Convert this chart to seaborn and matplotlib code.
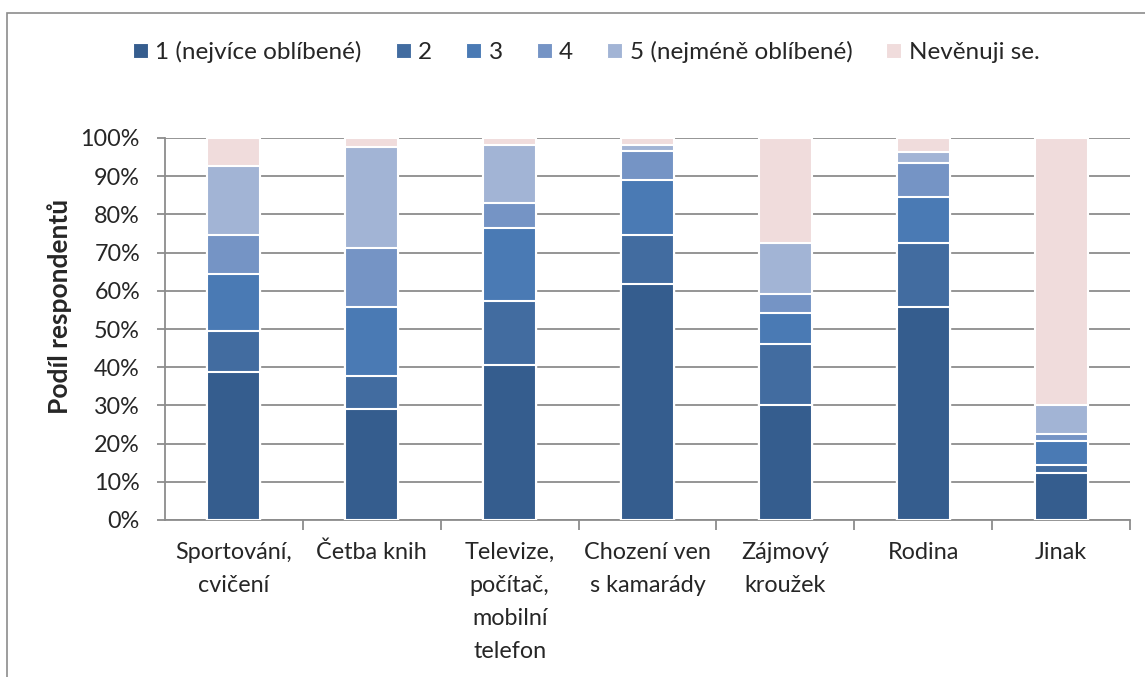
import numpy as np
import pandas as pd
import matplotlib
matplotlib.use("Agg")
import matplotlib.pyplot as plt
import matplotlib.patches as mpatches
import seaborn as sns

categories = ["Sportování,\ncvičení", "Četba knih", "Televize,\npočítač,\nmobilní\ntelefon",
              "Chození ven\ns kamarády", "Zájmový\nkroužek", "Rodina", "Jinak"]
levels = ["1 (nejvíce oblíbené)", "2", "3", "4", "5 (nejméně oblíbené)", "Nevěnuji se."]

# share of respondents in % per level, one list per level (same order as categories)
level_1 = [38.8, 29.1, 40.6, 61.7, 30.1, 55.8, 12.2]
level_2 = [10.7, 8.6, 16.6, 12.8, 15.9, 16.6, 2.2]
level_3 = [14.8, 18.1, 19.3, 14.5, 8.3, 12.2, 6.3]
level_4 = [10.2, 15.3, 6.4, 7.6, 4.9, 8.8, 1.8]
level_5 = [18.2, 26.6, 15.3, 1.6, 13.2, 3.0, 7.6]
level_none = [7.3, 2.3, 1.8, 1.8, 27.6, 3.6, 69.9]

colors = ["#355d8e", "#426ca0", "#4a7ab4", "#7594c5", "#a2b4d5", "#f0dcdc"]

sns.set_style("white")
plt.rcParams["font.family"] = ["Lato", "DejaVu Sans"]

df = pd.DataFrame({"kategorie": categories})
for name, vals in zip(levels, [level_1, level_2, level_3, level_4, level_5, level_none]):
    df[name] = vals
cum = df[levels].cumsum(axis=1) / 100.0

fig = plt.figure(figsize=(11.45, 6.77), dpi=100)
ax = fig.add_axes([165 / 1145, 1 - 520 / 677, 965 / 1145, 382 / 677])

# stacked bars: draw cumulative totals from the top level down
for i in reversed(range(len(levels))):
    sns.barplot(x=df["kategorie"], y=cum[levels[i]], color=colors[i], width=0.385,
                saturation=1, edgecolor="white", linewidth=1.5, ax=ax, zorder=3)

ax.set_ylim(0, 1)
ax.set_xlim(-0.5, len(categories) - 0.5)
ax.set_yticks(np.arange(0, 1.01, 0.1))
ax.set_yticklabels([f"{int(round(v * 100))}%" for v in np.arange(0, 1.01, 0.1)])
ax.yaxis.grid(True, color="#8c8c8c", linewidth=1.3, zorder=0)
ax.set_axisbelow(True)
for s in ["top", "right"]:
    ax.spines[s].set_visible(False)
for s in ["left", "bottom"]:
    ax.spines[s].set_color("#8c8c8c")
    ax.spines[s].set_linewidth(1.3)
ax.tick_params(axis="y", left=True, length=6, width=1.3, color="#8c8c8c",
               pad=12, labelsize=16.8)
ax.set_xticks(range(len(categories)))
ax.set_xticklabels(categories, fontsize=16.8, linespacing=1.72, va="top")
ax.set_xticks(np.arange(0.5, len(categories), 1.0), minor=True)
ax.tick_params(axis="x", which="major", bottom=False, pad=12)
ax.tick_params(axis="x", which="minor", bottom=True, length=7, width=1.3, color="#8c8c8c")
ax.set_xlabel("")
ax.set_ylabel("Podíl respondentů", fontsize=19, fontweight="bold")
ax.yaxis.set_label_coords(-0.096, 0.56)

handles = [mpatches.Patch(facecolor=c, edgecolor="white", linewidth=0.8) for c in colors]
fig.legend(handles, levels, loc="center", bbox_to_anchor=(0.512, 0.923), ncol=6,
           frameon=False, fontsize=17.5, handlelength=0.62, handleheight=0.62,
           handletextpad=0.3, columnspacing=1.4)

# outer chart frame (clipped at right and bottom like the reference)
fig.add_artist(mpatches.Rectangle((7 / 1145, -0.1), 1.2, 1 - 13 / 677 + 0.1,
                                  transform=fig.transFigure, fill=False,
                                  edgecolor="#8c8c8c", linewidth=1.2))

fig.savefig("out.png", dpi=100)
